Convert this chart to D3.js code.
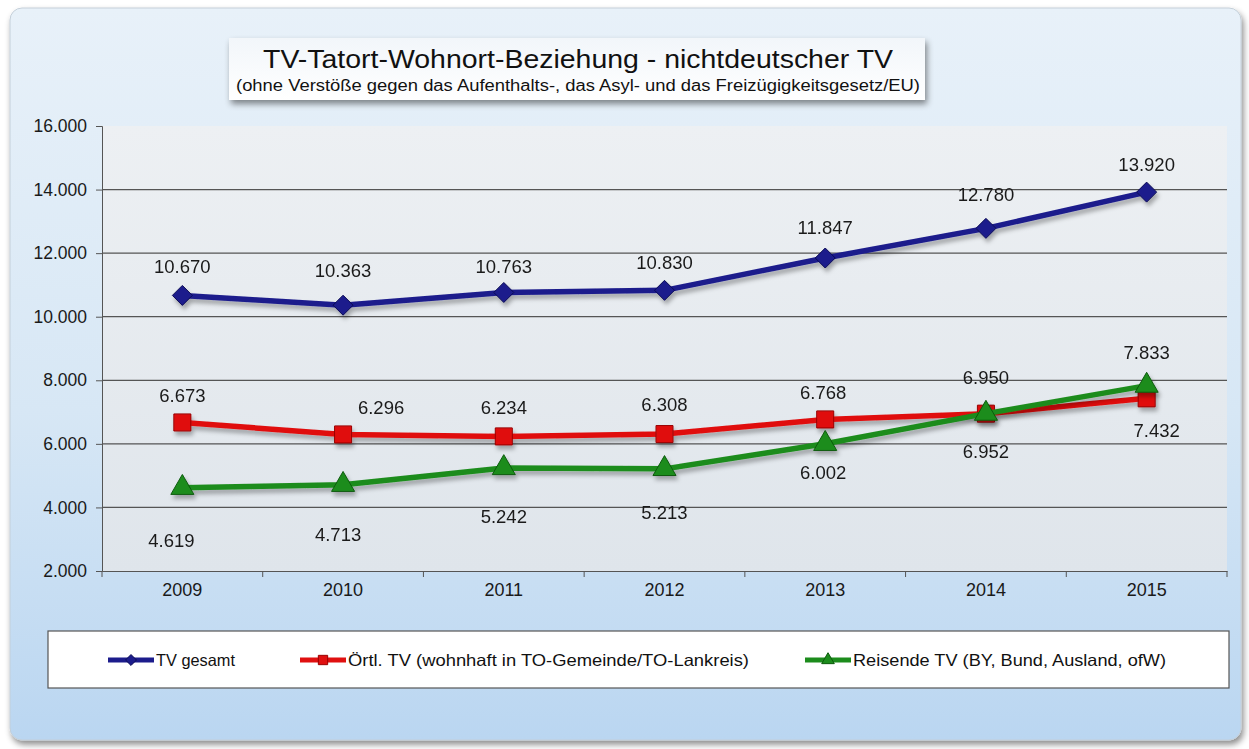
<!DOCTYPE html>
<html>
<head>
<meta charset="utf-8">
<script src="https://cdn.jsdelivr.net/npm/d3@7"></script>
<style>
  body { margin: 0; background: #ffffff; }
  svg text { font-family: "Liberation Sans", Arial, sans-serif; }
</style>
</head>
<body>
<div id="chart"></div>
<script>
// data
var years = ["2009", "2010", "2011", "2012", "2013", "2014", "2015"];
var gesamt = [10670, 10363, 10763, 10830, 11847, 12780, 13920];
var oertl = [6673, 6296, 6234, 6308, 6768, 6950, 7432];
var reisende = [4619, 4713, 5242, 5213, 6002, 6952, 7833];
var yTicks = [2000, 4000, 6000, 8000, 10000, 12000, 14000, 16000];
var seriesNames = ["TV gesamt", "Örtl. TV (wohnhaft in TO-Gemeinde/TO-Lankreis)", "Reisende TV (BY, Bund, Ausland, ofW)"];

// label placement (pixel offsets from the point)
var gesamtLbl = [[0, -29], [0, -35], [0, -26], [0, -28], [0, -30], [0, -34], [0, -28]];
var oertlLbl = [[0, -27], [38, -27], [0, -29], [0, -30], [-2, -27], [0, -36], [10, 32]];
var reisendeLbl = [[-11, 53], [-5, 50], [0, 49], [0, 44], [-2, 29], [0, 38], [0, -33]];

var W = 1249, H = 749;
var margin = {top: 126, left: 102};

var svg = d3.select("#chart").append("svg")
    .attr("width", W)
    .attr("height", H);

var defs = svg.append("defs");

var bgGrad = defs.append("linearGradient").attr("id", "bgGrad")
    .attr("x1", 0).attr("y1", 0).attr("x2", 0).attr("y2", 1);
bgGrad.append("stop").attr("offset", "0%").attr("stop-color", "#e8f1f9");
bgGrad.append("stop").attr("offset", "55%").attr("stop-color", "#d7e7f5");
bgGrad.append("stop").attr("offset", "100%").attr("stop-color", "#bad6f1");

var plotGrad = defs.append("linearGradient").attr("id", "plotGrad")
    .attr("x1", 0).attr("y1", 0).attr("x2", 0).attr("y2", 1);
plotGrad.append("stop").attr("offset", "0%").attr("stop-color", "#edf0f3");
plotGrad.append("stop").attr("offset", "100%").attr("stop-color", "#dfe5eb");

var titleGrad = defs.append("linearGradient").attr("id", "titleGrad")
    .attr("x1", 0).attr("y1", 0).attr("x2", 0).attr("y2", 1);
titleGrad.append("stop").attr("offset", "0%").attr("stop-color", "#f2f6fa");
titleGrad.append("stop").attr("offset", "100%").attr("stop-color", "#ffffff");

var shadow = defs.append("filter").attr("id", "shadow")
    .attr("x", "-10%").attr("y", "-10%").attr("width", "120%").attr("height", "140%");
shadow.append("feDropShadow").attr("dx", 2).attr("dy", 4).attr("stdDeviation", 3)
    .attr("flood-color", "#000").attr("flood-opacity", 0.45);

var lineShadow = defs.append("filter").attr("id", "lineShadow")
    .attr("x", "-5%").attr("y", "-20%").attr("width", "110%").attr("height", "160%");
lineShadow.append("feDropShadow").attr("dx", 2).attr("dy", 4).attr("stdDeviation", 2)
    .attr("flood-color", "#000").attr("flood-opacity", 0.3);

// outer frame
svg.append("rect")
    .attr("x", 10).attr("y", 8)
    .attr("width", 1231).attr("height", 732)
    .attr("rx", 12)
    .style("fill", "url(#bgGrad)")
    .style("stroke", "#c4cfd9")
    .style("filter", "url(#shadow)");

// title box
svg.append("rect")
    .attr("x", 229).attr("y", 38)
    .attr("width", 696).attr("height", 62)
    .style("fill", "url(#titleGrad)")
    .style("filter", "url(#shadow)");

svg.append("text")
    .attr("x", 578).attr("y", 68)
    .attr("text-anchor", "middle")
    .attr("textLength", 630)
    .attr("lengthAdjust", "spacingAndGlyphs")
    .style("font-size", "26px")
    .style("fill", "#111")
    .text("TV-Tatort-Wohnort-Beziehung - nichtdeutscher TV");

svg.append("text")
    .attr("x", 578).attr("y", 91)
    .attr("text-anchor", "middle")
    .attr("textLength", 684)
    .attr("lengthAdjust", "spacingAndGlyphs")
    .style("font-size", "16px")
    .style("fill", "#111")
    .text("(ohne Verstöße gegen das Aufenthalts-, das Asyl- und das Freizügigkeitsgesetz/EU)");

var plotW = 1125, plotH = 445;

var g = svg.append("g")
    .attr("transform", "translate(" + margin.left + "," + margin.top + ")");

var x = d3.scaleBand()
    .domain(years)
    .range([0, plotW]);

var y = d3.scaleLinear()
    .domain([2000, 16000])
    .range([plotH, 0]);

var fmt = function(d) { return d3.format(",")(d).replace(",", "."); };

// plot area
g.append("rect")
    .attr("width", plotW).attr("height", plotH)
    .style("fill", "url(#plotGrad)");

// gridlines
g.append("g")
    .selectAll("line")
    .data(yTicks.filter(function(d) { return d > 2000 && d < 16000; }))
    .enter()
    .append("line")
        .attr("x1", 0).attr("x2", plotW)
        .attr("y1", function(d) { return y(d); })
        .attr("y2", function(d) { return y(d); })
        .style("stroke", "#555")
        .style("stroke-width", 1.2);

// Y axis
var yAxis = g.append("g")
    .call(d3.axisLeft(y).tickValues(yTicks).tickSize(6).tickPadding(9).tickFormat(fmt));
yAxis.selectAll("text").style("font-size", "17.5px").style("fill", "#1a1a1a");
yAxis.selectAll("line, path").style("stroke", "#555");

// X axis
var xAxis = g.append("g")
    .attr("transform", "translate(0," + plotH + ")")
    .call(d3.axisBottom(x).tickSize(0).tickPadding(12));
xAxis.selectAll("text").style("font-size", "18px").style("fill", "#1a1a1a");
xAxis.select("path").style("stroke", "#555").style("stroke-width", 1.2);
g.append("g")
    .selectAll("line")
    .data(d3.range(years.length + 1))
    .enter()
    .append("line")
        .attr("x1", function(d) { return d * x.step(); })
        .attr("x2", function(d) { return d * x.step(); })
        .attr("y1", plotH).attr("y2", plotH + 6)
        .style("stroke", "#555");

function cx(i) { return x(years[i]) + x.bandwidth() / 2; }

var diamond = {
    draw: function(ctx, size) {
        var r = Math.sqrt(size) / Math.SQRT2;
        ctx.moveTo(0, -r); ctx.lineTo(r, 0); ctx.lineTo(0, r); ctx.lineTo(-r, 0); ctx.closePath();
    }
};

var series = [
    {name: seriesNames[0], values: gesamt, color: "#1c1c8c", dark: "#0d0d55", shape: diamond, size: 200, lbl: gesamtLbl},
    {name: seriesNames[1], values: oertl, color: "#e01010", dark: "#990000", shape: d3.symbolSquare, size: 290, lbl: oertlLbl},
    {name: seriesNames[2], values: reisende, color: "#1c8c1c", dark: "#0b5a0b", shape: d3.symbolTriangle, size: 230, lbl: reisendeLbl}
];

var line = d3.line()
    .x(function(d, i) { return cx(i); })
    .y(function(d) { return y(d); });

// lines and markers (green last so it sits on top of red)
series.forEach(function(s) {
    var sg = g.append("g").style("filter", "url(#lineShadow)");
    sg.append("path")
        .datum(s.values)
        .attr("d", line)
        .style("fill", "none")
        .style("stroke", s.color)
        .style("stroke-width", 5.5)
        .style("stroke-linejoin", "round");

    sg.selectAll("path.mark")
        .data(s.values)
        .enter()
        .append("path")
            .attr("class", "mark")
            .attr("transform", function(d, i) {
                return "translate(" + cx(i) + "," + y(d) + ")";
            })
            .attr("d", d3.symbol().type(s.shape).size(s.size))
            .style("fill", s.color)
            .style("stroke", s.dark)
            .style("stroke-width", 1);
});

// data labels
series.forEach(function(s) {
    g.append("g")
        .selectAll("text")
        .data(s.values)
        .enter()
        .append("text")
            .attr("x", function(d, i) { return cx(i) + s.lbl[i][0]; })
            .attr("y", function(d, i) { return y(d) + s.lbl[i][1]; })
            .attr("dy", "0.35em")
            .attr("text-anchor", "middle")
            .style("font-size", "18.5px")
            .style("fill", "#1a1a1a")
            .text(fmt);
});

// legend
svg.append("rect")
    .attr("x", 48).attr("y", 631)
    .attr("width", 1181).attr("height", 57)
    .style("fill", "#ffffff")
    .style("stroke", "#555")
    .style("stroke-width", 1.2);

var legendX = [108, 300, 805];
var legendW = [79, 401, 313];
var leg = svg.append("g")
    .selectAll("g")
    .data(series)
    .enter()
    .append("g")
        .attr("transform", function(d, i) { return "translate(" + legendX[i] + ",660)"; });

leg.append("line")
    .attr("x1", 0).attr("x2", 46)
    .style("stroke", function(d) { return d.color; })
    .style("stroke-width", 5);
leg.append("path")
    .attr("transform", "translate(23,0)")
    .attr("d", function(d) { return d3.symbol().type(d.shape).size(d.size * 0.3)(); })
    .style("fill", function(d) { return d.color; })
    .style("stroke", function(d) { return d.dark; });
leg.append("text")
    .attr("x", 48)
    .attr("dy", "0.35em")
    .attr("textLength", function(d, i) { return legendW[i]; })
    .attr("lengthAdjust", "spacingAndGlyphs")
    .style("font-size", "16.5px")
    .style("fill", "#111")
    .text(function(d) { return d.name; });
</script>
</body>
</html>
